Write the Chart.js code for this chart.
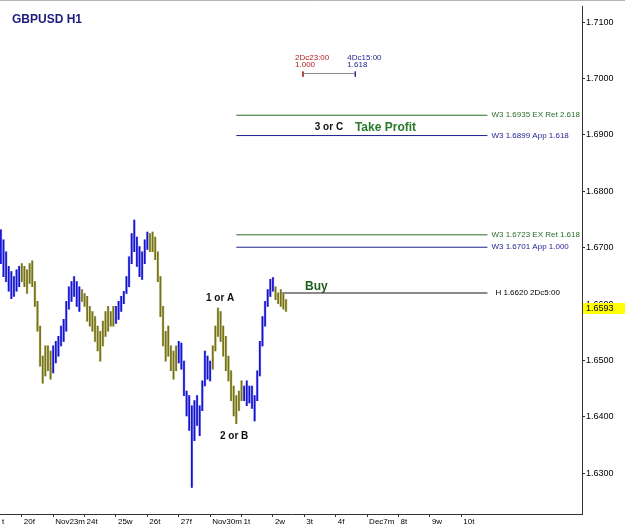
<!DOCTYPE html>
<html>
<head>
<meta charset="utf-8">
<script src="https://cdn.jsdelivr.net/npm/chart.js@4.4.0/dist/chart.umd.min.js"></script>
<style>
html, body { margin: 0; padding: 0; background: #fff; }
#wrap { position: relative; width: 625px; height: 527px; }
</style>
</head>
<body>
<div id="wrap"><canvas id="chart" width="625" height="527"></canvas></div>
<script>
// H1 bars, one every 2 hours, hours counted in trading time from Thu 19 Nov 00:00
const firstHour = 8;
const hourStep = 2;

const barHigh = [1.6732,1.6714,1.6693,1.6667,1.6658,1.6649,1.6661,1.6667,1.6672,1.6667,
1.6661,1.6672,1.6677,1.6640,1.6605,1.6561,1.6508,1.6526,1.6526,1.6517,
1.6526,1.6534,1.6543,1.6561,1.6573,1.6605,1.6631,1.6640,1.6649,1.6640,
1.6631,1.6626,1.6619,1.6614,1.6596,1.6587,1.6578,1.6561,1.6552,1.6570,
1.6587,1.6596,1.6587,1.6596,1.6596,1.6605,1.6614,1.6623,1.6649,1.6684,
1.6725,1.6749,1.6719,1.6702,1.6693,1.6714,1.6728,1.6725,1.6728,1.6719,
1.6693,1.6649,1.6596,1.6552,1.6561,1.6526,1.6517,1.6526,1.6534,1.6531,
1.6499,1.6446,1.6438,1.6420,1.6429,1.6438,1.6420,1.6464,1.6517,1.6508,
1.6499,1.6526,1.6561,1.6593,1.6587,1.6561,1.6543,1.6508,1.6482,1.6455,
1.6438,1.6446,1.6464,1.6455,1.6464,1.6455,1.6455,1.6438,1.6482,1.6534,
1.6578,1.6605,1.6626,1.6644,1.6647,1.6631,1.6620,1.6626,1.6619,1.6608];

const barLow = [1.6672,1.6649,1.6640,1.6623,1.6610,1.6614,1.6623,1.6631,1.6640,1.6631,
1.6619,1.6637,1.6631,1.6596,1.6552,1.6490,1.6460,1.6473,1.6482,1.6467,
1.6478,1.6496,1.6508,1.6526,1.6534,1.6552,1.6591,1.6605,1.6614,1.6596,
1.6587,1.6605,1.6596,1.6570,1.6561,1.6552,1.6534,1.6517,1.6499,1.6526,
1.6543,1.6552,1.6561,1.6561,1.6566,1.6573,1.6587,1.6601,1.6619,1.6631,
1.6672,1.6693,1.6667,1.6649,1.6644,1.6672,1.6697,1.6693,1.6693,1.6679,
1.6640,1.6578,1.6526,1.6499,1.6508,1.6482,1.6467,1.6482,1.6496,1.6485,
1.6438,1.6402,1.6376,1.6275,1.6358,1.6385,1.6367,1.6411,1.6455,1.6467,
1.6464,1.6485,1.6517,1.6543,1.6534,1.6508,1.6482,1.6464,1.6429,1.6402,
1.6388,1.6411,1.6429,1.6429,1.6420,1.6425,1.6415,1.6393,1.6429,1.6473,
1.6526,1.6561,1.6596,1.6614,1.6623,1.6608,1.6601,1.6596,1.6591,1.6587];

// b = blue, o = olive
const barTone = ['b','b','b','b','b','b','b','b','o','o',
'o','o','o','o','o','o','o','o','o','o',
'b','b','b','b','b','b','b','b','b','b',
'b','o','o','o','o','o','o','o','o','o',
'o','o','o','o','b','b','b','b','b','b',
'b','b','b','b','b','b','b','o','o','o',
'o','o','o','o','o','o','o','o','b','b',
'b','b','b','b','b','b','b','b','b','b',
'b','o','o','o','o','o','o','o','o','o',
'o','o','o','b','b','b','b','b','b','b',
'b','b','b','b','b','o','o','o','o','o'];

const dayLabels = ['t','20f','Nov23m','24t','25w','26t','27f','Nov30m','1t','2w','3t','4f','Dec7m','8t','9w','10t'];
const priceTicks = [1.63,1.64,1.65,1.66,1.67,1.68,1.69,1.70,1.71];

const levelPrices = [1.6935, 1.6899, 1.6723, 1.6701, 1.6620];
const levelLabels = ['W3 1.6935 EX Ret 2.618','W3 1.6899 App 1.618','W3 1.6723 EX Ret 1.618','W3 1.6701 App 1.000','H 1.6620 2Dc5:00'];
const lastPrice = 1.6593;

const GREEN = '#2b6d2b';
const NAVY = '#1e1e90';
const levelStyle = [
    {from: 188, color: GREEN, width: 1, text: GREEN, gap: 4},
    {from: 188, color: NAVY, width: 1, text: NAVY, gap: 4},
    {from: 188, color: GREEN, width: 1, text: GREEN, gap: 4},
    {from: 188, color: NAVY, width: 1, text: NAVY, gap: 4},
    {from: 223, color: '#8a8a8a', width: 2, text: '#000', gap: 8}
];
const levelEnd = 380;

const xMin = 7.34, xMax = 452.3;
const yMin = 1.6228, yMax = 1.7128;

const hourOf = i => firstHour + i * hourStep;
const range = barHigh.map((h, i) => ({x: hourOf(i), y: [barLow[i], h]}));

const levelSets = levelPrices.map((p, k) => ({
    type: 'line',
    data: [{x: levelStyle[k].from, y: p}, {x: levelEnd, y: p}],
    borderColor: levelStyle[k].color,
    borderWidth: levelStyle[k].width,
    pointRadius: 0,
    fill: false,
    order: 1
}));

// fibo time zone marker (2Dc23:00 -> 4Dc15:00)
const fibHours = [239, 279];
const fibRow = 1.7009;
const fibSets = [
    {type: 'line', data: [{x: fibHours[0], y: fibRow}, {x: fibHours[1], y: fibRow}], borderColor: '#8a8a8a', borderWidth: 1, pointRadius: 0, order: 1},
    {type: 'line', data: [{x: fibHours[0], y: 1.70125}, {x: fibHours[0], y: 1.70035}], borderColor: '#b02020', borderWidth: 1, pointRadius: 0, order: 1},
    {type: 'line', data: [{x: fibHours[1], y: 1.70125}, {x: fibHours[1], y: 1.70035}], borderColor: NAVY, borderWidth: 1, pointRadius: 0, order: 1}
];

const notes = [
    {text: '3 or C', h: 248, p: 1.6913, font: 'bold 10px "Liberation Sans"', color: '#111'},
    {text: 'Take Profit', h: 278.7, p: 1.6913, font: 'bold 12px "Liberation Sans"', color: '#2a7a2a'},
    {text: 'Buy', h: 240.5, p: 1.6631, font: 'bold 12px "Liberation Sans"', color: '#1d5e1d'},
    {text: '1 or A', h: 164.8, p: 1.6610, font: 'bold 10px "Liberation Sans"', color: '#111'},
    {text: '2 or B', h: 175.5, p: 1.6365, font: 'bold 10px "Liberation Sans"', color: '#111'}
];

const overlay = {
    id: 'overlay',
    afterDraw(chart) {
        const {ctx, scales: {x, y}} = chart;
        ctx.save();
        ctx.textBaseline = 'middle';
        ctx.textAlign = 'left';

        // window frame line
        ctx.strokeStyle = '#b4b4b4';
        ctx.lineWidth = 1;
        ctx.beginPath();
        ctx.moveTo(0, 0.5);
        ctx.lineTo(625, 0.5);
        ctx.stroke();

        ctx.font = 'bold 12px "Liberation Sans"';
        ctx.fillStyle = '#1c1c7c';
        ctx.fillText('GBPUSD H1', 12, 20);

        ctx.font = '8px "Liberation Sans"';
        levelPrices.forEach((p, k) => {
            ctx.fillStyle = levelStyle[k].text;
            ctx.fillText(levelLabels[k], x.getPixelForValue(levelEnd) + levelStyle[k].gap, y.getPixelForValue(p));
        });

        ctx.fillStyle = '#b02020';
        ctx.fillText('2Dc23:00', x.getPixelForValue(fibHours[0]) - 8, y.getPixelForValue(1.7036));
        ctx.fillText('1.000', x.getPixelForValue(fibHours[0]) - 8, y.getPixelForValue(1.7024));
        ctx.fillStyle = NAVY;
        ctx.fillText('4Dc15:00', x.getPixelForValue(fibHours[1]) - 8, y.getPixelForValue(1.7036));
        ctx.fillText('1.618', x.getPixelForValue(fibHours[1]) - 8, y.getPixelForValue(1.7024));

        notes.forEach(n => {
            ctx.font = n.font;
            ctx.fillStyle = n.color;
            ctx.fillText(n.text, x.getPixelForValue(n.h), y.getPixelForValue(n.p));
        });

        // last price marker on the price axis
        const py = Math.round(y.getPixelForValue(lastPrice));
        ctx.fillStyle = '#ffff00';
        ctx.fillRect(x.right + 1, py - 5, 625 - x.right - 1, 11);
        ctx.fillStyle = '#000';
        ctx.font = '9px "Liberation Sans"';
        ctx.fillText(lastPrice.toFixed(4), x.right + 4, py + 0.5);
        ctx.restore();
    }
};

const chart = new Chart(document.getElementById('chart').getContext('2d'), {
    type: 'bar',
    data: {
        datasets: [
            {
                data: range,
                backgroundColor: barTone.map(t => t === 'b' ? '#b4b4ee' : '#dad7a8'),
                barThickness: 2,
                grouped: false,
                order: 3
            },
            {
                data: range,
                backgroundColor: barTone.map(t => t === 'b' ? '#1414d2' : '#75721c'),
                barThickness: 1,
                grouped: false,
                order: 2
            },
            ...levelSets,
            ...fibSets
        ]
    },
    options: {
        responsive: false,
        animation: false,
        layout: {padding: {top: 3, left: 0, right: 0, bottom: 0}},
        plugins: {
            legend: {display: false},
            tooltip: {enabled: false},
            title: {display: false}
        },
        scales: {
            x: {
                type: 'linear',
                min: xMin,
                max: xMax,
                offset: false,
                grid: {
                    drawOnChartArea: false,
                    offset: false,
                    tickLength: 3,
                    tickColor: c => c.index === 0 ? 'rgba(0,0,0,0)' : '#333'
                },
                border: {color: '#333'},
                afterBuildTicks: s => {
                    s.ticks = dayLabels.map((d, i) => ({value: i === 0 ? xMin : i * 24}));
                },
                afterFit: s => { s.height = 13; },
                ticks: {
                    autoSkip: false,
                    maxRotation: 0,
                    align: 'start',
                    labelOffset: 2,
                    padding: 0,
                    color: '#000',
                    font: {family: 'Liberation Sans', size: 8},
                    callback: (v, i) => dayLabels[i]
                }
            },
            y: {
                position: 'right',
                min: yMin,
                max: yMax,
                grid: {
                    drawOnChartArea: false,
                    tickLength: 3,
                    tickColor: '#333'
                },
                border: {color: '#333'},
                afterBuildTicks: s => {
                    s.ticks = priceTicks.map(v => ({value: v}));
                },
                afterFit: s => { s.width = 43; },
                ticks: {
                    padding: 1,
                    color: '#000',
                    font: {family: 'Liberation Sans', size: 9},
                    callback: v => v.toFixed(4)
                }
            }
        }
    },
    plugins: [overlay]
});
</script>
</body>
</html>
